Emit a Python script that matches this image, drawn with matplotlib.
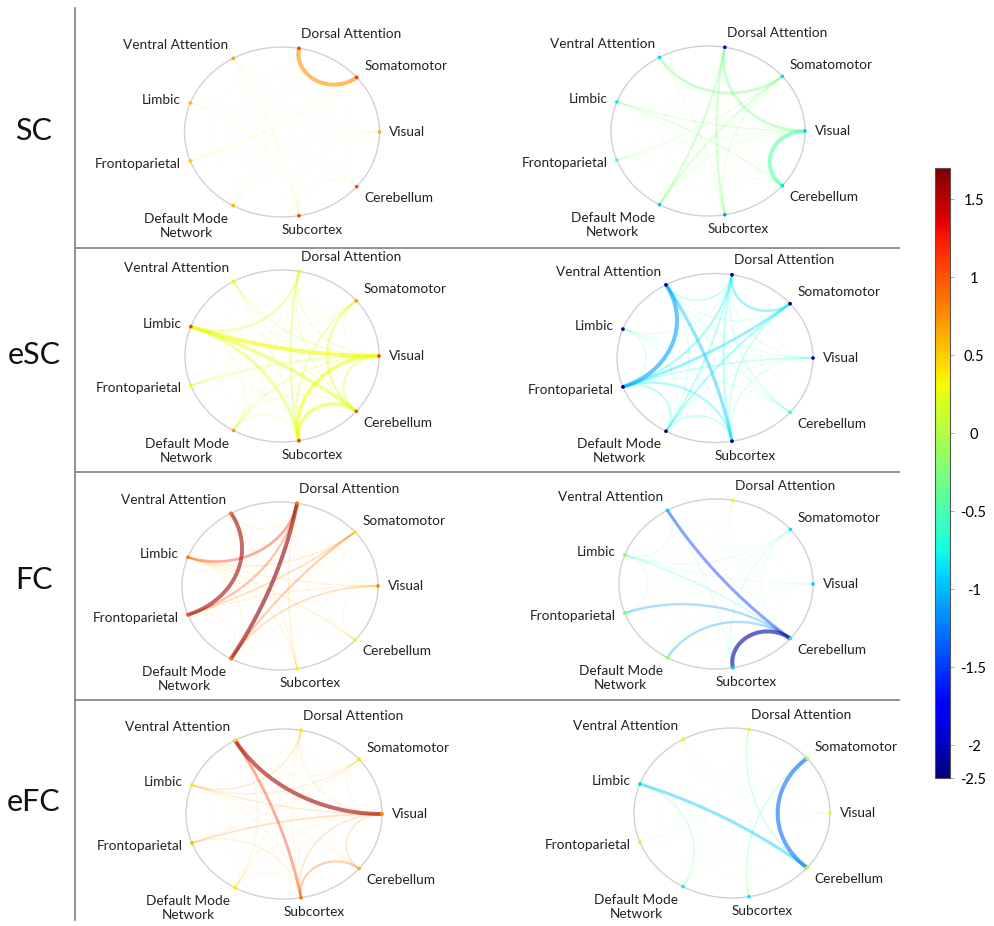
import numpy as np
import matplotlib.pyplot as plt
import matplotlib as mpl
from matplotlib.lines import Line2D

plt.rcParams['font.family'] = ['Lato', 'DejaVu Sans']

W, H = 995, 926

node_names = ["Visual", "Somatomotor", "Dorsal Attention", "Ventral Attention", "Limbic",
              "Frontoparietal", "Default Mode\nNetwork", "Subcortex", "Cerebellum"]
row_labels = ["SC", "eSC", "FC", "eFC"]

cbar_ticks = [1.5, 1, 0.5, 0, -0.5, -1, -1.5, -2]
cbar_labels = ["1.5", "1", "0.5", "0", "-0.5", "-1", "-1.5", "-2"]
vmin, vmax = -2.21, 1.7

# edge values, lower triangle: row k holds node k vs nodes 0..k-1
sc_left = [
    [0.05],
    [0.04, 0.75],
    [0.03, 0.04, 0.10],
    [0.04, 0.03, 0.04, 0.06],
    [0.10, 0.18, 0.03, 0.04, 0.05],
    [0.05, 0.04, 0.12, 0.03, 0.04, 0.05],
    [0.10, 0.05, 0.04, 0.15, 0.14, 0.03, 0.04],
    [0.08, 0.03, 0.03, 0.03, 0.04, 0.03, 0.04, 0.16],
]
sc_left_nodes = [0.6, 1.1, 1.1, 0.65, 0.6, 0.5, 0.6, 1.1, 1.05]

sc_right = [
    [-0.10],
    [-0.30, -0.10],
    [-0.08, -0.30, -0.07],
    [-0.18, -0.07, -0.08, -0.06],
    [-0.12, -0.15, -0.07, -0.06, -0.07],
    [-0.14, -0.22, -0.25, -0.06, -0.07, -0.09],
    [-0.10, -0.16, -0.25, -0.14, -0.12, -0.06, -0.09],
    [-0.45, -0.09, -0.10, -0.07, -0.18, -0.06, -0.07, -0.12],
]
sc_right_nodes = [-0.95, -0.9, -1.8, -0.9, -0.8, -0.5, -0.95, -1.1, -0.85]

esc_left = [
    [0.10],
    [0.12, 0.07],
    [0.12, 0.07, 0.07],
    [0.30, 0.09, 0.18, 0.06],
    [0.15, 0.07, 0.08, 0.05, 0.07],
    [0.14, 0.09, 0.10, 0.09, 0.10, 0.06],
    [0.28, 0.16, 0.18, 0.10, 0.22, 0.09, 0.12],
    [0.18, 0.20, 0.12, 0.10, 0.24, 0.07, 0.10, 0.26],
]
esc_left_nodes = [1.1, 0.7, 0.35, 0.3, 1.1, 0.3, 0.7, 1.15, 1.0]

esc_right = [
    [-0.55],
    [-0.60, -0.85],
    [-0.60, -0.62, -0.72],
    [-0.55, -0.50, -0.60, -0.50],
    [-0.70, -0.88, -0.80, -1.10, -0.65],
    [-0.60, -0.78, -0.75, -0.62, -0.60, -0.75],
    [-0.62, -0.70, -0.75, -0.95, -0.60, -0.80, -0.72],
    [-0.55, -0.55, -0.65, -0.62, -0.55, -0.60, -0.55, -0.50],
]
esc_right_nodes = [-2.0, -2.2, -2.2, -2.2, -2.0, -2.2, -2.2, -2.2, -0.6]

fc_left = [
    [0.35],
    [0.45, 0.40],
    [0.35, 0.35, 0.50],
    [0.60, 0.65, 1.15, 0.40],
    [0.55, 0.80, 1.00, 1.60, 0.40],
    [0.80, 0.95, 1.65, 0.40, 0.55, 0.50],
    [0.45, 0.40, 0.60, 0.55, 0.55, 0.40, 0.35],
    [0.50, 0.35, 0.45, 0.40, 0.60, 0.35, 0.35, 0.30],
]
fc_left_nodes = [0.8, 0.4, 0.9, 0.9, 0.85, 1.0, 0.9, 0.35, 0.2]

fc_right = [
    [-0.30],
    [-0.20, -0.20],
    [-0.30, -0.25, -0.30],
    [-0.45, -0.55, -0.25, -0.55],
    [-0.30, -0.35, -0.20, -0.30, -0.55],
    [-0.25, -0.30, -0.20, -0.25, -0.30, -0.35],
    [-0.30, -0.60, -0.30, -0.55, -0.35, -0.30, -0.30],
    [-0.40, -0.45, -0.35, -1.55, -0.75, -1.15, -1.15, -2.10],
]
fc_right_nodes = [-0.9, -0.85, 0.2, -0.9, -0.2, -0.3, -0.1, -0.95, -0.8]

efc_left = [
    [0.55],
    [0.60, 0.50],
    [1.55, 0.55, 0.55],
    [0.70, 0.65, 0.70, 0.50],
    [0.80, 0.55, 0.50, 0.45, 0.45],
    [0.55, 0.50, 0.55, 0.60, 0.40, 0.50],
    [0.75, 0.50, 0.55, 1.15, 0.55, 0.65, 0.55],
    [0.75, 0.45, 0.45, 0.50, 0.55, 0.40, 0.40, 0.95],
]
efc_left_nodes = [0.75, 0.4, 0.4, 0.45, 0.4, 0.6, 0.4, 0.85, 0.6]

efc_right = [
    [-0.08],
    [-0.06, -0.08],
    [-0.05, -0.06, -0.06],
    [-0.10, -0.12, -0.08, -0.06],
    [-0.06, -0.20, -0.08, -0.05, -0.12],
    [-0.06, -0.15, -0.12, -0.06, -0.45, -0.08],
    [-0.08, -0.45, -0.10, -0.06, -0.15, -0.06, -0.15],
    [-0.10, -1.30, -0.45, -0.06, -0.95, -0.06, -0.08, -0.12],
]
efc_right_nodes = [0.2, 0.0, 0.2, 0.2, -0.9, 0.15, -0.8, -0.85, 0.0]

panels = [
    (sc_left, sc_left_nodes, (282, 132, 97.5, 85)),
    (sc_right, sc_right_nodes, (708, 131, 97, 85)),
    (esc_left, esc_left_nodes, (282, 356, 97, 86)),
    (esc_right, esc_right_nodes, (715, 358, 98, 84.5)),
    (fc_left, fc_left_nodes, (280, 586, 98, 84)),
    (fc_right, fc_right_nodes, (716, 584, 97, 85)),
    (efc_left, efc_left_nodes, (284, 814, 98, 85)),
    (efc_right, efc_right_nodes, (732, 813, 98, 85)),
]

cmap = plt.get_cmap('jet')
norm = mpl.colors.Normalize(vmin=vmin, vmax=vmax)


def geodesic(a, b, n=80):
    # arc orthogonal to the unit circle between angles a and b
    sep = (b - a) % (2 * np.pi)
    if sep > np.pi:
        a, b = b, a
        sep = 2 * np.pi - sep
    mid = a + sep / 2
    c = np.array([np.cos(mid), np.sin(mid)]) / np.cos(sep / 2)
    r = np.tan(sep / 2)
    fa = np.arctan2(np.sin(a) - c[1], np.cos(a) - c[0])
    fb = np.arctan2(np.sin(b) - c[1], np.cos(b) - c[0])
    d = (fb - fa + np.pi) % (2 * np.pi) - np.pi
    f = fa + np.linspace(0, d, n)
    return c[0] + r * np.cos(f), c[1] + r * np.sin(f)


def draw_panel(ax, edges, nodes):
    ang = np.deg2rad(np.arange(9) * 40.0)
    pairs = [(i, j, edges[i - 1][j]) for i in range(1, 9) for j in range(i)]
    mags = np.abs([p[2] for p in pairs])
    lo, hi = mags.min(), mags.max()

    t = np.linspace(0, 2 * np.pi, 300)
    ax.plot(np.cos(t), np.sin(t), color='#d2d2d2', lw=1.0, zorder=1)

    for i, j, v in sorted(pairs, key=lambda p: abs(p[2])):
        s = (abs(v) - lo) / (hi - lo)
        x, y = geodesic(ang[i], ang[j])
        ax.plot(x, y, color=cmap(norm(v)), lw=0.4 + 2.5 * s,
                alpha=0.04 + 0.56 * s, solid_capstyle='butt', zorder=2)

    ax.scatter(np.cos(ang), np.sin(ang), c=nodes, cmap=cmap, norm=norm,
               s=7, linewidths=0, zorder=3)

    for k, name in enumerate(node_names):
        c, s = np.cos(ang[k]), np.sin(ang[k])
        x, y = 1.1 * c, 1.1 * s
        ha = 'left' if c > 0.1 else ('right' if c < -0.1 else 'center')
        va = 'bottom' if s > 0.6 else ('top' if s < -0.6 else 'center')
        if s < -0.9:
            ha = 'center'
            x += 0.12
        ax.text(x, y, name, ha=ha, va=va, multialignment='center',
                fontsize=9.8, color='#222222')

    ax.set_xlim(-1.7, 1.7)
    ax.set_ylim(-1.7, 1.7)
    ax.axis('off')


fig = plt.figure(figsize=(W / 100, H / 100), dpi=100)

for edges, nodes, (cx, cy, rx, ry) in panels:
    M = 1.7
    ax = fig.add_axes([(cx - M * rx) / W, 1 - (cy + M * ry) / H,
                       2 * M * rx / W, 2 * M * ry / H])
    draw_panel(ax, edges, nodes)

# row labels
for lab, y in zip(row_labels, [131, 355, 580, 802]):
    fig.text(34 / W, 1 - y / H, lab, ha='center', va='center', fontsize=22, color='#111111')

# frame lines
fig.add_artist(Line2D([75 / W, 75 / W], [1 - 8 / H, 1 - 920 / H], color='#808080', lw=1.2))
for y in [248, 472, 700]:
    fig.add_artist(Line2D([75 / W, 899 / W], [1 - y / H, 1 - y / H], color='#808080', lw=1.2))

# colorbar
cax = fig.add_axes([935 / W, 1 - 778 / H, 15 / W, 610 / H])
cb = mpl.colorbar.ColorbarBase(cax, cmap=cmap, norm=norm, orientation='vertical')
cb.set_ticks(cbar_ticks + [vmin])
cb.set_ticklabels(cbar_labels + ["-2.5"])
cb.outline.set_edgecolor('#555555')
cb.outline.set_linewidth(0.8)
cax.tick_params(length=3, width=0.6, color='#999999', labelsize=10.5, pad=14)
for tl in cax.get_yticklabels():
    tl.set_horizontalalignment('center')

fig.savefig('out.png', dpi=100)
